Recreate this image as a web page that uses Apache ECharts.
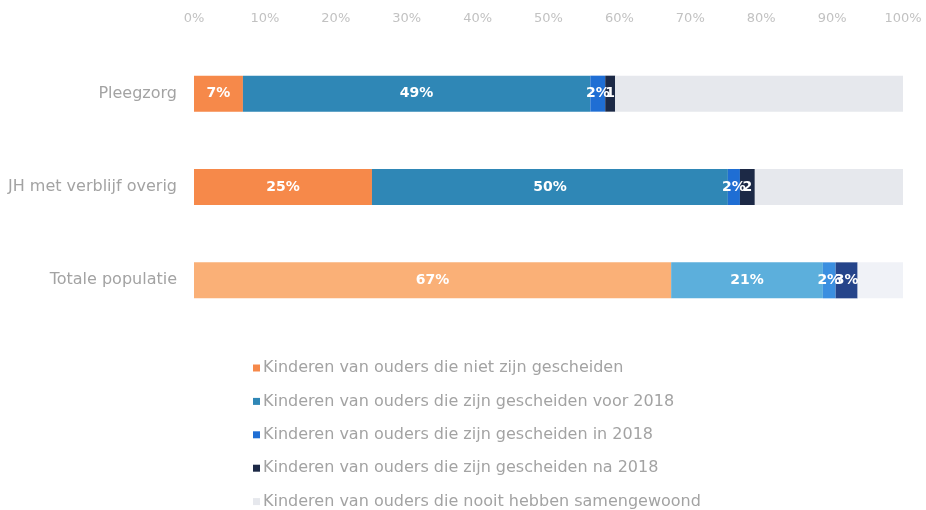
<!DOCTYPE html>
<html>
<head>
<meta charset="utf-8">
<script src="https://cdn.jsdelivr.net/npm/echarts@6/dist/echarts.min.js"></script>
<style>
  html, body { margin: 0; padding: 0; background: #fff; }
  #chart { width: 926px; height: 510px; }
</style>
</head>
<body>
<div id="chart"></div>
<script>
// categories (top to bottom)
const categories = ['Pleegzorg', 'JH met verblijf overig', 'Totale populatie'];

const seriesNames = [
  'Kinderen van ouders die niet zijn gescheiden',
  'Kinderen van ouders die zijn gescheiden voor 2018',
  'Kinderen van ouders die zijn gescheiden in 2018',
  'Kinderen van ouders die zijn gescheiden na 2018',
  'Kinderen van ouders die nooit hebben samengewoond'
];

// percentages per category, one array per series
const nietGescheiden = [6.9, 25.1, 67.3];
const voor2018 = [49.0, 50.2, 21.4];
const in2018 = [2.1, 1.7, 1.8];
const na2018 = [1.4, 2.1, 3.1];
const nooitSamen = [40.6, 20.9, 6.4];

const xTicks = [0, 10, 20, 30, 40, 50, 60, 70, 80, 90, 100];

// colours: first two rows, last row (lighter)
const baseColors = ['#f6894a', '#2f87b6', '#1f6ed4', '#1c2946', '#e6e8ed'];
const lightColors = ['#fab077', '#5cafdc', '#3b8fe0', '#25448a', '#f0f2f7'];

const FONT = 'DejaVu Sans, Verdana, sans-serif';

const chart = echarts.init(document.getElementById('chart'));

const allValues = [nietGescheiden, voor2018, in2018, na2018, nooitSamen];

const series = allValues.map((vals, i) => ({
  name: seriesNames[i],
  type: 'bar',
  stack: 'total',
  barWidth: 36,
  itemStyle: { color: baseColors[i] },
  label: {
    show: i < 4,
    position: 'inside',
    color: '#ffffff',
    fontSize: 14,
    fontWeight: 'bold',
    fontFamily: FONT,
    formatter: p => Math.round(p.value) + '%'
  },
  data: vals.map((v, j) => ({
    value: v,
    itemStyle: { color: j === 2 ? lightColors[i] : baseColors[i] }
  }))
}));

const option = {
  animation: false,
  backgroundColor: '#ffffff',
  grid: { left: 194, right: 23, top: 47, bottom: 183 },
  xAxis: {
    type: 'value',
    position: 'top',
    min: 0,
    max: 100,
    interval: 10,
    axisLine: { show: false },
    axisTick: { show: false },
    splitLine: { show: false },
    axisLabel: {
      margin: 22,
      color: '#c2c2c2',
      fontSize: 13,
      fontFamily: FONT,
      formatter: v => xTicks.includes(v) ? v + '%' : ''
    }
  },
  yAxis: {
    type: 'category',
    inverse: true,
    data: categories,
    axisLine: { show: false },
    axisTick: { show: false },
    axisLabel: {
      margin: 17,
      color: '#a3a3a3',
      fontSize: 16,
      fontFamily: FONT
    }
  },
  legend: {
    orient: 'vertical',
    left: 253,
    top: 360,
    padding: 0,
    icon: 'rect',
    itemWidth: 7,
    itemHeight: 7,
    itemGap: 17.4,
    selectedMode: false,
    textStyle: {
      color: '#a3a3a3',
      fontSize: 16,
      lineHeight: 16,
      padding: [0, 0, 0, -2],
      fontFamily: FONT
    },
    data: seriesNames.map((n, i) => ({ name: n, itemStyle: { color: baseColors[i] } }))
  },
  series: series
};

chart.setOption(option);

// in the original the dark segment's label is cut off by the grey segment:
// limit that label to (about) the width of its own bar
const navy = series[3];
navy.data = navy.data.map((d, j) => {
  const start = nietGescheiden[j] + voor2018[j] + in2018[j];
  const x0 = chart.convertToPixel({ xAxisIndex: 0 }, start);
  const x1 = chart.convertToPixel({ xAxisIndex: 0 }, start + na2018[j]);
  return Object.assign({}, d, {
    label: { width: x1 - x0 + 4, overflow: 'truncate', ellipsis: '' }
  });
});
chart.setOption({ series: series });
</script>
</body>
</html>
